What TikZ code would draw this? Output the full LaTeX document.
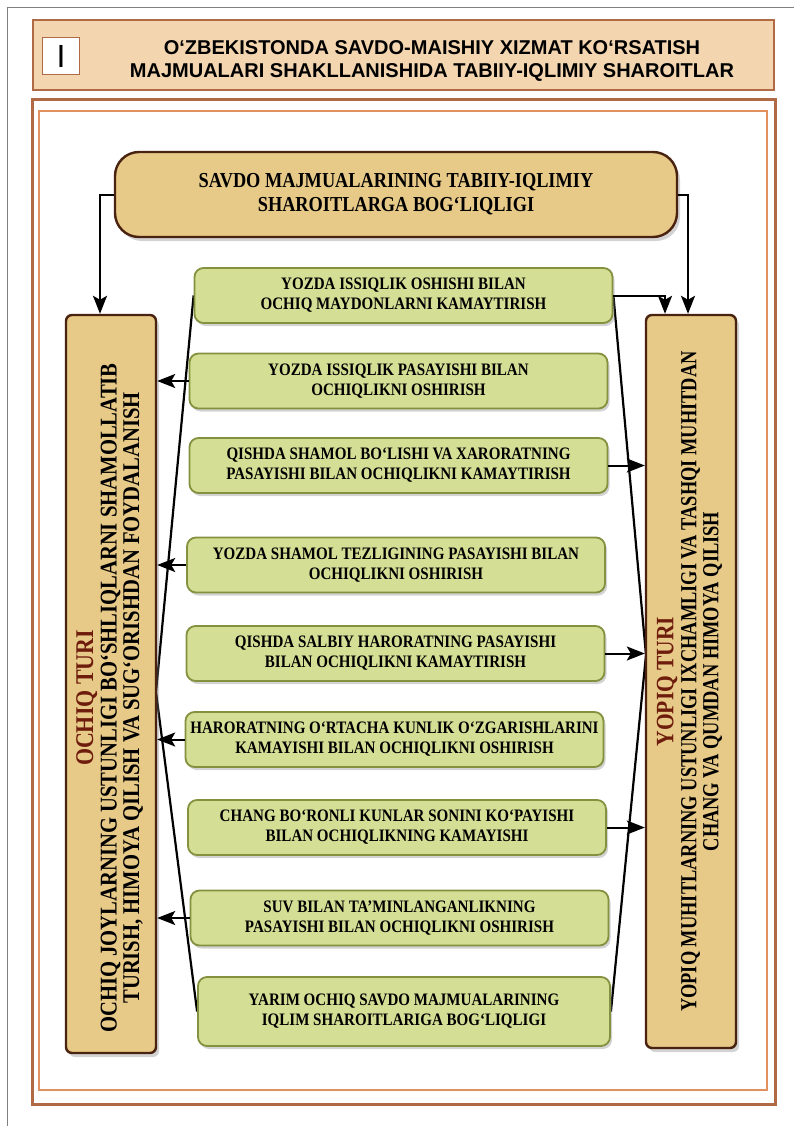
\documentclass[tikz,border=0pt]{standalone}
\usepackage{fontspec}
\setmainfont{Liberation Serif}[FakeStretch=0.86]
\newfontfamily\eng{Liberation Serif}[FakeStretch=0.8]
\newfontfamily\kopfschrift{Liberation Sans}
\usetikzlibrary{arrows.meta,shadows,backgrounds}
\definecolor{kopf}{HTML}{F3D5B0}
\definecolor{rahmen}{HTML}{B06B45}
\definecolor{rahmenhell}{HTML}{E0915F}
\definecolor{gold}{HTML}{E7C988}
\definecolor{braun}{HTML}{4A2210}
\definecolor{gruen}{HTML}{D4DE94}
\definecolor{oliv}{HTML}{84913E}
\definecolor{titel}{HTML}{6E1C0C}
\begin{document}
\begin{tikzpicture}[x=1pt,y=-1pt,
  gbox/.style={draw=oliv,line width=1.8pt,fill=gruen,rounded corners=9pt,
    minimum width=418pt,minimum height=55pt,inner xsep=2pt,align=center,
    font=\bfseries\fontsize{17.5}{20}\selectfont,
    drop shadow={opacity=0.35,shadow xshift=2pt,shadow yshift=-3pt}},
  sbox/.style={draw=braun,line width=2.4pt,fill=gold,rounded corners=6pt,
    minimum width=90pt,inner sep=0pt,font=\bfseries\fontsize{24}{22}\selectfont,
    drop shadow={opacity=0.35,shadow xshift=3pt,shadow yshift=-4pt}},
  pfeil/.style={-{Stealth[length=18pt,width=14pt,inset=4pt,fill=black]},line width=2pt},
  linie/.style={line width=2.2pt}]
  \useasboundingbox (0,0) rectangle (794,1126);
  \draw[gray,line width=0.8pt] (7,7) rectangle (810,1140); % Seitenrand
  % Kopfzeile
  \draw[rahmen,line width=1.5pt,fill=kopf] (33,20) rectangle (774,90);
  \node[draw=rahmen,line width=1.3pt,fill=white,minimum size=37pt,inner sep=0pt,
    font=\kopfschrift\fontsize{32}{32}\selectfont] (nr) at (61,56) {I};
  \node[align=center,font=\kopfschrift\bfseries\fontsize{20}{23}\selectfont] (kt) at (432,61)
    {O‘ZBEKISTONDA SAVDO-MAISHIY XIZMAT KO‘RSATISH\\
     MAJMUALARI SHAKLLANISHIDA TABIIY-IQLIMIY SHAROITLAR};
  % Rahmen
  \draw[rahmen,line width=3pt] (32,100) rectangle (775,1104);
  \draw[rahmenhell,line width=1.2pt] (39,111) rectangle (767,1090);
  % Oberer Kasten
  \node[sbox,rounded corners=24pt,minimum width=562pt,minimum height=85pt,align=center,
    font=\bfseries\fontsize{21.3}{24}\selectfont] (sd) at (396,194.5)
    {SAVDO MAJMUALARINING TABIIY-IQLIMIY\\ SHAROITLARGA BOG‘LIQLIGI};
  % Seitliche Kaesten
  \node[sbox,minimum height=738pt] (lb) at (111,684) {\rotatebox{90}{\begin{tabular}{@{}c@{\hspace{28pt}}}
    {\color{titel}\fontsize{25.5}{26}\selectfont OCHIQ TURI}\\[1pt]
    OCHIQ JOYLARNING USTUNLIGI BO‘SHLIQLARNI SHAMOLLATIB\\
    TURISH, HIMOYA QILISH VA SUG‘ORISHDAN FOYDALANISH\end{tabular}}};
  \node[sbox,minimum height=733pt] (rb) at (691,681.5) {\rotatebox{90}{\begin{tabular}{@{}c@{}}
    {\color{titel}\fontsize{25}{26}\selectfont YOPIQ TURI}\\[1pt]
    \eng\fontsize{23}{22}\selectfont YOPIQ MUHITLARNING USTUNLIGI IXCHAMLIGI VA TASHQI MUHITDAN\\
    \eng\fontsize{23}{22}\selectfont CHANG VA QUMDAN HIMOYA QILISH\end{tabular}}};
  % Gruene Kaesten
  \foreach \n/\x/\y/\t in {
    1/403.5/295.5/{YOZDA ISSIQLIK  OSHISHI BILAN\\ OCHIQ MAYDONLARNI KAMAYTIRISH},
    2/398.5/381/{YOZDA ISSIQLIK  PASAYISHI BILAN\\ OCHIQLIKNI OSHIRISH},
    3/398.5/465.5/{QISHDA SHAMOL BO‘LISHI VA XARORATNING\\ PASAYISHI  BILAN OCHIQLIKNI KAMAYTIRISH},
    4/396/565/{YOZDA SHAMOL TEZLIGINING PASAYISHI BILAN\\ OCHIQLIKNI OSHIRISH},
    5/395.5/653.5/{QISHDA SALBIY HARORATNING PASAYISHI\\ BILAN OCHIQLIKNI KAMAYTIRISH},
    6/394.5/739.5/{HARORATNING O‘RTACHA KUNLIK O‘ZGARISHLARINI\\ KAMAYISHI BILAN OCHIQLIKNI OSHIRISH},
    7/397/827.5/{CHANG BO‘RONLI KUNLAR SONINI KO‘PAYISHI\\ BILAN OCHIQLIKNING KAMAYISHI},
    8/399.5/918/{SUV BILAN TA’MINLANGANLIKNING\\ PASAYISHI BILAN OCHIQLIKNI OSHIRISH}}
    \node[gbox] (g\n) at (\x,\y) {\t};
  \node[gbox,minimum width=412pt,minimum height=69pt] (g9) at (404,1011.5)
    {YARIM OCHIQ SAVDO MAJMUALARINING\\ IQLIM SHAROITLARIGA BOG‘LIQLIGI};
  % Pfeile
  \draw[pfeil] (sd.west) -| ([xshift=-11pt]lb.north);
  \draw[pfeil] (sd.east) -| ([xshift=-3pt]rb.north);
  \draw[pfeil] (g1.east) -| ([xshift=-26pt]rb.north);
  \foreach \n in {2,4,6,8}
    \draw[pfeil] (g\n.west) -- (g\n.west -| lb.east);
  \foreach \n in {3,5,7}
    \draw[pfeil] (g\n.east) -- (g\n.east -| rb.west);
  % Schraege Linien
  \coordinate (lv) at (156,692);
  \coordinate (rv) at (646,655);
  \begin{scope}[on background layer]
    \draw[linie] (g1.west) -- (lv) -- (g9.west);
    \draw[linie] (g1.east) -- (rv) -- (g9.east);
  \end{scope}
\end{tikzpicture}
\end{document}
